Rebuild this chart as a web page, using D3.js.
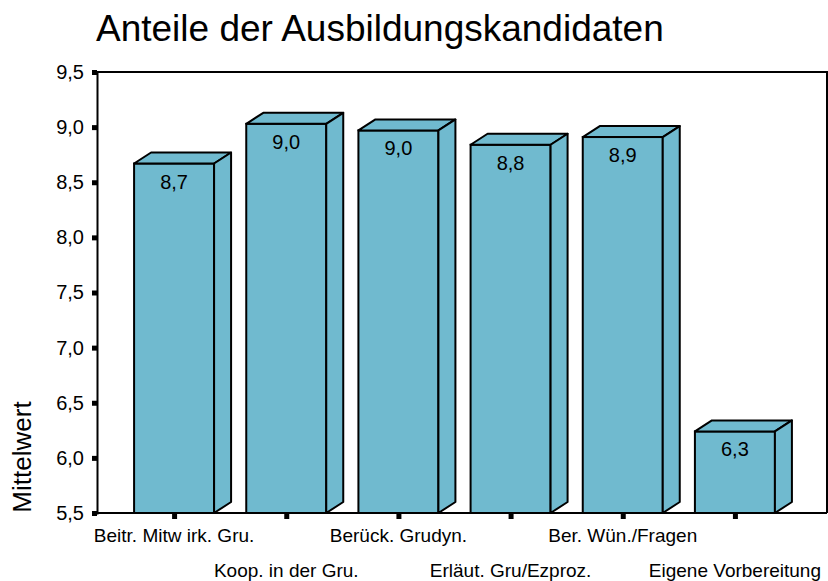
<!DOCTYPE html>
<html>
<head>
<meta charset="utf-8">
<script src="https://cdn.jsdelivr.net/npm/d3@7"></script>
<style>
  body { margin: 0; background: #fff; }
  text { font-family: "Liberation Sans", Arial, sans-serif; fill: #000; }
</style>
</head>
<body>
<script>
var categories = ["Beitr. Mitw irk. Gru.", "Koop. in der Gru.", "Berück. Grudyn.",
                  "Erläut. Gru/Ezproz.", "Ber. Wün./Fragen", "Eigene Vorbereitung"];
var values = [8.67, 9.03, 8.97, 8.84, 8.91, 6.24];
var valueLabels = ["8,7", "9,0", "9,0", "8,8", "8,9", "6,3"];
var yTicks = [5.5, 6.0, 6.5, 7.0, 7.5, 8.0, 8.5, 9.0, 9.5];

var width = 828,
    height = 581;

var plotLeft = 97, plotRight = 827, plotTop = 72, plotBottom = 513;
var barW = 80, dx = 17, dy = 11;

var svg = d3.select("body").append("svg")
    .attr("width", width)
    .attr("height", height);

var y = d3.scaleLinear().domain([5.5, 9.5]).range([plotBottom, plotTop]);
var x = d3.scalePoint().domain(categories).range([118, 791]).padding(0.5);

// title
svg.append("text")
    .attr("x", 96)
    .attr("y", 41)
    .style("font-size", "37px")
    .text("Anteile der Ausbildungskandidaten");

// frame top / right
svg.append("path")
    .attr("d", "M" + plotLeft + "," + plotTop + "H" + plotRight + "V" + plotBottom)
    .attr("fill", "none")
    .attr("stroke", "#000")
    .attr("stroke-width", 2);

// bars
var bars = svg.selectAll(".bar")
    .data(values)
    .enter().append("g")
    .attr("class", "bar");

bars.append("rect")
    .attr("x", function(d, i) { return x(categories[i]) - barW / 2; })
    .attr("y", function(d) { return y(d); })
    .attr("width", barW)
    .attr("height", function(d) { return plotBottom - y(d); })
    .attr("fill", "#70bacf")
    .attr("stroke", "#000")
    .attr("stroke-width", 2);

bars.append("path")
    .attr("d", function(d, i) {
        var x0 = x(categories[i]) - barW / 2, x1 = x0 + barW, yt = y(d);
        return "M" + x0 + "," + yt + "L" + (x0 + dx) + "," + (yt - dy) +
               "L" + (x1 + dx) + "," + (yt - dy) + "L" + x1 + "," + yt + "Z";
    })
    .attr("fill", "#70bacf")
    .attr("stroke", "#000")
    .attr("stroke-width", 2)
    .attr("stroke-linejoin", "round");

bars.append("path")
    .attr("d", function(d, i) {
        var x1 = x(categories[i]) + barW / 2, yt = y(d);
        return "M" + x1 + "," + yt + "L" + (x1 + dx) + "," + (yt - dy) +
               "L" + (x1 + dx) + "," + (plotBottom - dy) + "L" + x1 + "," + plotBottom + "Z";
    })
    .attr("fill", "#70bacf")
    .attr("stroke", "#000")
    .attr("stroke-width", 2)
    .attr("stroke-linejoin", "round");

bars.append("text")
    .attr("x", function(d, i) { return x(categories[i]); })
    .attr("y", function(d) { return y(d) + 25; })
    .attr("text-anchor", "middle")
    .style("font-size", "20px")
    .text(function(d, i) { return valueLabels[i]; });

// y axis
var yAxis = d3.axisLeft(y)
    .tickValues(yTicks)
    .tickSize(5)
    .tickPadding(8)
    .tickFormat(function(d) { return d3.format(".1f")(d).replace(".", ","); });

var gy = svg.append("g")
    .attr("transform", "translate(" + plotLeft + ",0)")
    .call(yAxis);
gy.select(".domain").attr("stroke-width", 2);
gy.selectAll(".tick line").attr("stroke-width", 5);
gy.selectAll(".tick text").style("font-size", "20px").style("font-family", "Liberation Sans, Arial, sans-serif");

// x axis
var xAxis = d3.axisBottom(x)
    .tickSize(6)
    .tickSizeOuter(0)
    .tickFormat("");

var gx = svg.append("g")
    .attr("transform", "translate(0," + plotBottom + ")")
    .call(xAxis);
gx.select(".domain").attr("d", "M" + plotLeft + ",0H" + plotRight).attr("stroke-width", 2);
gx.selectAll(".tick line").attr("stroke-width", 5);

svg.append("g").selectAll("text")
    .data(categories)
    .enter().append("text")
    .attr("x", function(d) { return x(d); })
    .attr("y", function(d, i) { return i % 2 === 0 ? 542 : 577; })
    .attr("text-anchor", "middle")
    .style("font-size", "19px")
    .text(function(d) { return d; });

// y axis title
svg.append("text")
    .attr("transform", "translate(31,457) rotate(-90)")
    .attr("text-anchor", "middle")
    .style("font-size", "26px")
    .text("Mittelwert");
</script>
</body>
</html>
